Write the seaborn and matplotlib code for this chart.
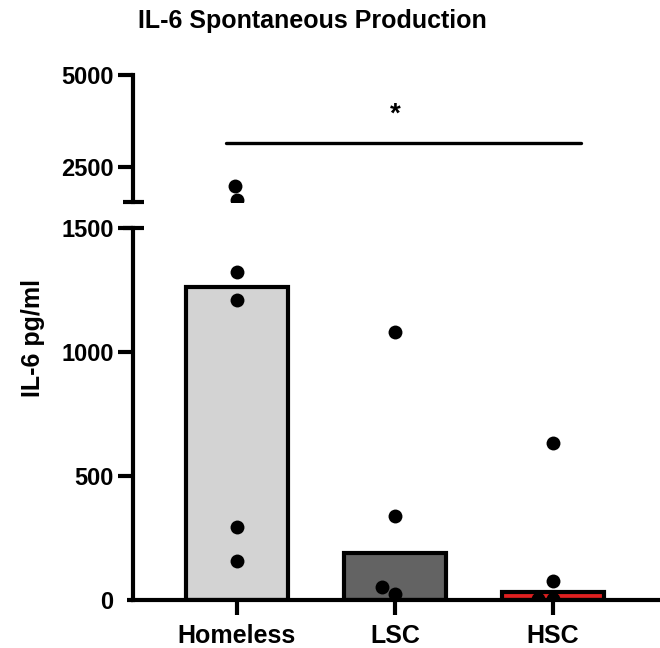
import matplotlib
matplotlib.use("Agg")
import matplotlib.pyplot as plt
import numpy as np
import pandas as pd
import seaborn as sns

# values
groups = ["Homeless", "LSC", "HSC"]
homeless = [1974, 1600, 1322, 1210, 294, 157]
lsc = [1081, 339, 52, 24]
hsc = [633, 77, 5, 5]
bar_heights = [1262, 190, 32]
bar_colors = ["#d3d3d3", "#636363", "#ff0000"]
lower_ticks = [0, 500, 1000, 1500]
upper_ticks = [2500, 5000]
sig_y = 3155

sns.set_style("ticks", {"axes.edgecolor": "black", "text.color": "black",
                        "xtick.color": "black", "ytick.color": "black",
                        "axes.labelcolor": "black"})
plt.rcParams["font.family"] = ["Liberation Sans", "DejaVu Sans"]
plt.rcParams["font.weight"] = "bold"

points = pd.DataFrame({
    "group": ["Homeless"] * len(homeless) + ["LSC"] * len(lsc) + ["HSC"] * len(hsc),
    "value": homeless + lsc + hsc,
})
bars = pd.DataFrame({"group": groups, "value": bar_heights})

fig = plt.figure(figsize=(6.6, 6.48), dpi=100)
ax_lo = fig.add_axes([133 / 660, 48 / 648, 527 / 660, 372 / 648])
ax_hi = fig.add_axes([133 / 660, 446 / 648, 527 / 660, 127 / 648])

xlim = (-0.658, 2.677)

sns.barplot(data=bars, x="group", y="value", order=groups, palette=bar_colors,
            hue="group", legend=False, width=0.65, edgecolor="black",
            linewidth=3, ax=ax_lo)
for ax in (ax_lo, ax_hi):
    sns.swarmplot(data=points, x="group", y="value", order=groups,
                  color="black", size=10, linewidth=0, ax=ax, zorder=5)
    ax.set_xlim(*xlim)
    ax.set_xlabel("")
    ax.set_ylabel("")
    ax.spines["top"].set_visible(False)
    ax.spines["right"].set_visible(False)
    ax.spines["left"].set_linewidth(3)
    ax.spines["bottom"].set_linewidth(3)
    ax.tick_params(axis="y", length=11, width=3, pad=3, labelsize=17, colors="black")
    ax.tick_params(axis="x", length=11, width=3, pad=6, labelsize=18, colors="black")

ax_lo.set_ylim(0, 1500)
ax_lo.set_yticks(lower_ticks)
ax_lo.yaxis.get_major_ticks()[0].tick1line.set_markersize(4)
ax_hi.set_ylim(1540, 5000)
ax_hi.set_yticks(upper_ticks)
ax_hi.spines["bottom"].set_visible(False)
ax_hi.set_xticks([])

for lab in ax_lo.get_xticklabels() + ax_lo.get_yticklabels() + ax_hi.get_yticklabels():
    lab.set_fontweight("bold")

# axis break caps
for ax, y in ((ax_lo, 1), (ax_hi, 0)):
    ax.plot([-0.019, 0.021], [y, y], transform=ax.transAxes, color="black",
            lw=3, clip_on=False, solid_capstyle="butt")

# significance bar
ax_hi.plot([-0.07, 2.18], [sig_y, sig_y], color="black", lw=2.4, clip_on=False)
ax_hi.text(1, sig_y + 420, "*", ha="center", va="bottom", fontsize=20,
           fontweight="bold", color="black")

fig.text(312 / 660, 1 - 28 / 648, "IL-6 Spontaneous Production", ha="center",
         va="baseline", fontsize=18, fontweight="bold", color="black")
fig.text(33 / 660, 1 - 338 / 648, "IL-6 pg/ml", ha="center", va="center",
         rotation=90, fontsize=18, fontweight="bold", color="black")

fig.savefig("out.png", dpi=100)
